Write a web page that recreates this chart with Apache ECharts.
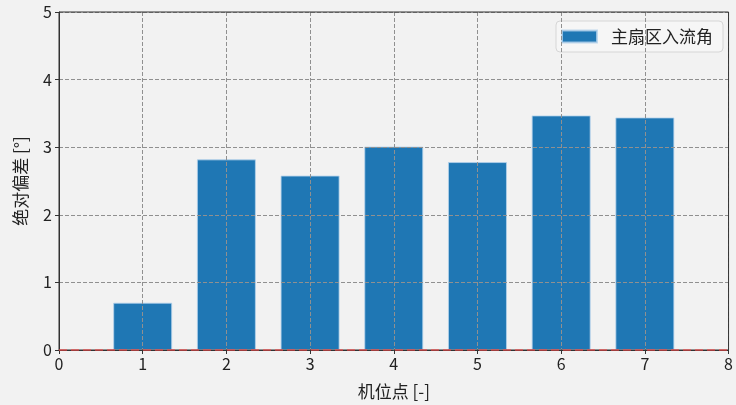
<!DOCTYPE html>
<html>
<head>
<meta charset="utf-8">
<script src="https://cdn.jsdelivr.net/npm/echarts@6/dist/echarts.min.js"></script>
<style>html,body{margin:0;padding:0;background:#f2f2f2;}#c{width:736px;height:405px;}</style>
</head>
<body>
<div id="c"></div>
<script>
const positions = [1, 2, 3, 4, 5, 6, 7];
const values = [0.70, 2.82, 2.58, 3.01, 2.78, 3.47, 3.44];
const seriesName = '主扇区入流角';
const xTicks = [0, 1, 2, 3, 4, 5, 6, 7, 8];
const yTicks = [0, 1, 2, 3, 4, 5];

const font = '"Noto Sans CJK SC", "DejaVu Sans", sans-serif';
const chart = echarts.init(document.getElementById('c'));
chart.setOption({
  backgroundColor: '#f2f2f2',
  animation: false,
  textStyle: { fontFamily: font },
  grid: { left: 59, right: 3, top: 12, bottom: 53, show: true, borderColor: '#333', borderWidth: 1, backgroundColor: 'transparent', z: 6 },
  legend: {
    right: 13, top: 21,
    itemWidth: 35, itemHeight: 12, itemGap: 10,
    padding: [7, 10, 7, 5],
    borderColor: '#d6d6d6', borderWidth: 1, borderRadius: 4,
    backgroundColor: '#f6f6f6',
    textStyle: { fontSize: 17, color: '#222', fontFamily: font, padding: [0, 0, 0, 9] },
    data: [{ name: seriesName, icon: 'rect' }]
  },
  xAxis: {
    type: 'value', min: 0, max: 8, interval: 1, z: 5,
    name: '机位点 [-]', nameLocation: 'middle', nameGap: 33,
    nameTextStyle: { fontSize: 17, color: '#222', fontFamily: font },
    axisLine: { show: true, lineStyle: { color: '#333' } },
    axisTick: { show: true, length: 4, lineStyle: { color: '#333' } },
    axisLabel: { fontSize: 16, color: '#222', margin: 6, formatter: v => xTicks.includes(v) ? String(v) : '' },
    splitLine: { show: true, lineStyle: { color: '#909090', type: [4, 2], width: 1 } }
  },
  yAxis: {
    type: 'value', min: 0, max: 5, interval: 1, z: 5,
    name: '绝对偏差 [°]', nameLocation: 'middle', nameGap: 30, nameRotate: 90,
    nameTextStyle: { fontSize: 17, color: '#222', fontFamily: font },
    axisLine: { show: true, lineStyle: { color: '#333' } },
    axisTick: { show: true, length: 4, lineStyle: { color: '#333' } },
    axisLabel: { fontSize: 16, color: '#222', margin: 7, formatter: v => yTicks.includes(v) ? String(v) : '' },
    splitLine: { show: true, lineStyle: { color: '#909090', type: [4, 2], width: 1 } }
  },
  series: [{
    name: seriesName,
    type: 'bar',
    barWidth: 59,
    z: 2,
    itemStyle: { color: '#1f77b4', borderColor: 'rgba(180,210,235,0.8)', borderWidth: 1 },
    data: positions.map((p, i) => [p, values[i]]),
    markLine: {
      silent: true, symbol: 'none', z: 7,
      label: { show: false },
      lineStyle: { color: 'rgba(255,70,70,0.55)', type: [8, 4], width: 2 },
      data: [{ yAxis: 0 }]
    }
  }]
});
</script>
</body>
</html>
